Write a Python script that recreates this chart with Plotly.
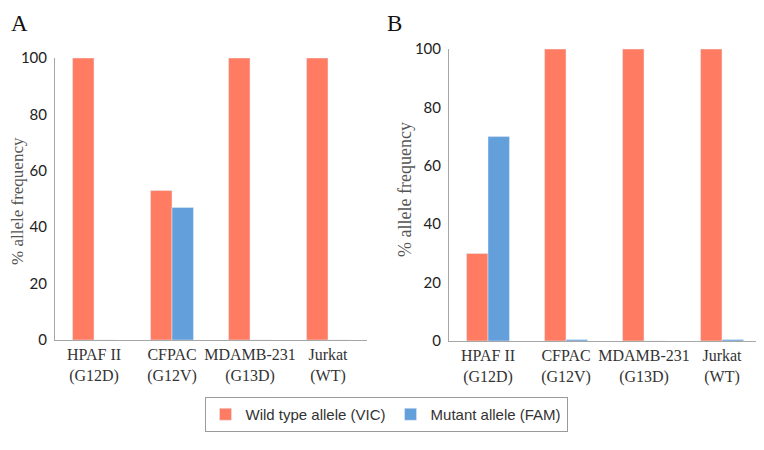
import plotly.graph_objects as go

W, H = 764, 450
OFF = 8  # default page body margin offsets the figure

categories = ["HPAF II<br>(G12D)", "CFPAC<br>(G12V)", "MDAMB-231<br>(G13D)", "Jurkat<br>(WT)"]
series_names = ["Wild type allele (VIC)", "Mutant allele (FAM)"]
panel_a_wild = [100, 53, 100, 100]
panel_a_mut = [0, 47, 0, 0]
panel_b_wild = [30, 100, 100, 100]
panel_b_mut = [70, 0.5, 0, 0.5]
y_ticks = [0, 20, 40, 60, 80, 100]
panel_labels = ["A", "B"]
y_title = "% allele frequency"

RED = "#FF7C63"
BLUE = "#629FDB"

def px_x(p):
    return (p - OFF) / W

def px_y(p):
    return (H - (p - OFF)) / H

fig = go.Figure()

fig.add_trace(go.Bar(x=categories, y=panel_a_wild, name=series_names[0], marker_color=RED,
                     xaxis="x", yaxis="y", legendgroup="w", showlegend=True))
fig.add_trace(go.Bar(x=categories, y=panel_a_mut, name=series_names[1], marker_color=BLUE,
                     xaxis="x", yaxis="y", legendgroup="m", showlegend=True))
fig.add_trace(go.Bar(x=categories, y=panel_b_wild, name=series_names[0], marker_color=RED,
                     xaxis="x2", yaxis="y2", legendgroup="w", showlegend=False))
fig.add_trace(go.Bar(x=categories, y=panel_b_mut, name=series_names[1], marker_color=BLUE,
                     xaxis="x2", yaxis="y2", legendgroup="m", showlegend=False))

xcommon = dict(showline=True, linecolor="#A6A6A6", linewidth=1, showgrid=False, zeroline=False,
               ticks="", automargin=False,
               tickfont=dict(family="Liberation Serif", size=16, color="#333333"),
               fixedrange=True)
ycommon = dict(showline=True, linecolor="#A6A6A6", linewidth=1, showgrid=False, zeroline=False,
               ticks="", range=[0, 100], tickvals=y_ticks, automargin=False,
               tickfont=dict(family="Lato", size=15, color="#222222"), ticklabelstandoff=4)

fig.update_layout(
    width=W, height=H,
    margin=dict(l=0, r=0, t=0, b=0, autoexpand=False),
    paper_bgcolor="white", plot_bgcolor="white",
    barmode="group", bargap=0.45, bargroupgap=0,
    xaxis=dict(domain=[px_x(55), px_x(367)], anchor="y", **xcommon),
    yaxis=dict(domain=[px_y(340), px_y(58)], anchor="x", **ycommon),
    xaxis2=dict(domain=[px_x(449), px_x(761)], anchor="y2", **xcommon),
    yaxis2=dict(domain=[px_y(341), px_y(49)], anchor="x2", **ycommon),
    legend=dict(orientation="h", x=px_x(386), xanchor="center", y=px_y(397), yanchor="top",
                bordercolor="#9A9A9A", borderwidth=1, bgcolor="white",
                font=dict(family="Liberation Sans", size=15, color="#333333"),
                traceorder="normal", tracegroupgap=0),
    showlegend=True,
    annotations=[
        dict(text=panel_labels[0], x=px_x(9), y=px_y(9), xref="paper", yref="paper",
             xanchor="left", yanchor="top", showarrow=False,
             font=dict(family="Liberation Serif", size=23, color="#111111")),
        dict(text=panel_labels[1], x=px_x(385), y=px_y(9), xref="paper", yref="paper",
             xanchor="left", yanchor="top", showarrow=False,
             font=dict(family="Liberation Serif", size=23, color="#111111")),
        dict(text=y_title, x=px_x(17), y=px_y(201), xref="paper", yref="paper",
             xanchor="center", yanchor="middle", showarrow=False, textangle=-90,
             font=dict(family="Liberation Serif", size=17, color="#555555")),
        dict(text=y_title, x=px_x(405), y=px_y(190), xref="paper", yref="paper",
             xanchor="center", yanchor="middle", showarrow=False, textangle=-90,
             font=dict(family="Liberation Serif", size=18, color="#555555")),
    ],
)

fig.write_html("out.html")
